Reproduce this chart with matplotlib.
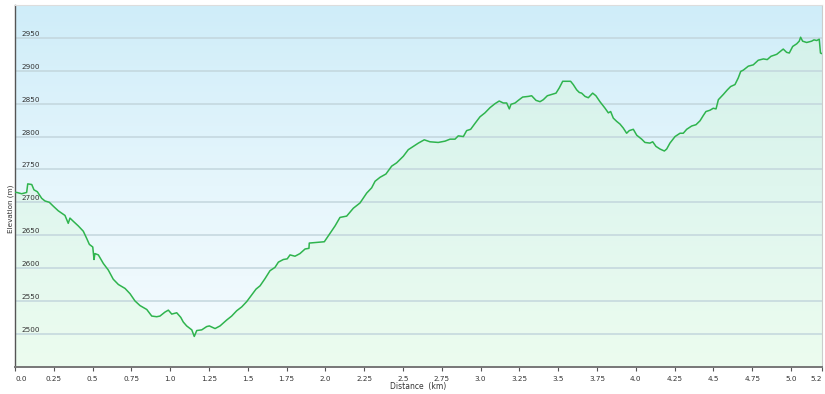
import numpy as np
import matplotlib
matplotlib.use('Agg')
import matplotlib.pyplot as plt
from matplotlib.colors import LinearSegmentedColormap

# profile (distance in km, elevation in m)
distance_km = [0.0, 0.011, 0.043, 0.075, 0.082, 0.108, 0.122, 0.144, 0.172, 0.193, 0.221, 0.247, 0.279,
               0.322, 0.343, 0.354, 0.376, 0.408, 0.440, 0.462, 0.479, 0.501, 0.509, 0.515, 0.537,
               0.569, 0.601, 0.633, 0.666, 0.709, 0.741, 0.773, 0.805, 0.849, 0.881, 0.913, 0.934,
               0.966, 0.988, 1.010, 1.042, 1.068, 1.084, 1.106, 1.139, 1.155, 1.171, 1.203, 1.235,
               1.252, 1.289, 1.321, 1.364, 1.396, 1.428, 1.461, 1.493, 1.525, 1.553, 1.579, 1.611,
               1.643, 1.675, 1.697, 1.729, 1.754, 1.772, 1.804, 1.836, 1.869, 1.894, 1.896, 1.944,
               1.993, 2.030, 2.062, 2.094, 2.137, 2.180, 2.223, 2.266, 2.298, 2.320, 2.352, 2.390,
               2.427, 2.459, 2.502, 2.534, 2.566, 2.599, 2.637, 2.674, 2.727, 2.771, 2.803, 2.835,
               2.856, 2.889, 2.910, 2.936, 2.964, 2.996, 3.028, 3.061, 3.093, 3.120, 3.146, 3.168,
               3.185, 3.196, 3.222, 3.243, 3.271, 3.307, 3.329, 3.357, 3.383, 3.404, 3.430, 3.458,
               3.486, 3.507, 3.529, 3.555, 3.580, 3.597, 3.619, 3.636, 3.651, 3.673, 3.694, 3.722,
               3.743, 3.769, 3.802, 3.823, 3.838, 3.855, 3.877, 3.898, 3.919, 3.941, 3.958, 3.984,
               4.006, 4.038, 4.059, 4.091, 4.109, 4.130, 4.156, 4.184, 4.199, 4.220, 4.253, 4.285,
               4.306, 4.328, 4.360, 4.388, 4.414, 4.435, 4.452, 4.478, 4.499, 4.517, 4.532, 4.564,
               4.590, 4.611, 4.639, 4.660, 4.676, 4.693, 4.725, 4.757, 4.789, 4.822, 4.847, 4.871,
               4.908, 4.934, 4.950, 4.972, 4.989, 5.011, 5.037, 5.053, 5.062, 5.075, 5.101, 5.133,
               5.148, 5.166, 5.182, 5.190, 5.200]
elevation_m = [2715, 2715, 2713, 2715, 2728, 2727, 2719, 2716, 2706, 2702, 2700, 2694, 2687,
               2680, 2668, 2676, 2671, 2664, 2656, 2645, 2636, 2632, 2613, 2622, 2620,
               2607, 2597, 2583, 2575, 2569, 2561, 2550, 2543, 2537, 2527, 2526, 2527,
               2533, 2536, 2530, 2532, 2525, 2518, 2512, 2506, 2496, 2505, 2506, 2511,
               2512, 2508, 2512, 2521, 2527, 2535, 2541, 2549, 2559, 2568, 2573, 2584,
               2596, 2601, 2609, 2613, 2614, 2620, 2618, 2622, 2629, 2630, 2638, 2639,
               2640, 2653, 2664, 2677, 2679, 2691, 2699, 2714, 2722, 2732, 2738, 2743,
               2755, 2760, 2770, 2780, 2785, 2790, 2795, 2792, 2791, 2793, 2796, 2796,
               2801, 2800, 2809, 2811, 2820, 2830, 2836, 2844, 2850, 2854, 2851, 2851,
               2842, 2849, 2851, 2855, 2860, 2861, 2862, 2855, 2853, 2856, 2862, 2864,
               2866, 2874, 2884, 2884, 2884, 2879, 2871, 2867, 2866, 2861, 2859, 2866,
               2862, 2853, 2843, 2836, 2838, 2828, 2823, 2819, 2813, 2805, 2809, 2811,
               2802, 2796, 2791, 2790, 2792, 2785, 2781, 2778, 2781, 2790, 2800, 2805,
               2805, 2811, 2816, 2818, 2824, 2832, 2838, 2840, 2843, 2842, 2856, 2864,
               2871, 2876, 2879, 2889, 2899, 2901, 2907, 2909, 2916, 2918, 2917, 2922,
               2925, 2930, 2933, 2928, 2927, 2937, 2941, 2945, 2951, 2945, 2943, 2945,
               2947, 2946, 2948, 2927, 2926]

x_ticks = [0.0, 0.25, 0.5, 0.75, 1.0, 1.25, 1.5, 1.75, 2.0, 2.25, 2.5, 2.75, 3.0, 3.25, 3.5,
           3.75, 4.0, 4.25, 4.5, 4.75, 5.0, 5.2]
x_tick_labels = ['0.0', '0.25', '0.5', '0.75', '1.0', '1.25', '1.5', '1.75', '2.0', '2.25', '2.5',
                 '2.75', '3.0', '3.25', '3.5', '3.75', '4.0', '4.25', '4.5', '4.75', '5.0', '5.2']
y_ticks = [2500, 2550, 2600, 2650, 2700, 2750, 2800, 2850, 2900, 2950]

x = np.array(distance_km)
y = np.array(elevation_m)
xmin, xmax = 0.0, 5.2
ymin, ymax = 2450, 3000

fig = plt.figure(figsize=(8.25, 3.94), dpi=100)
ax = fig.add_axes([0.0182, 0.0693, 0.9782, 0.918])

# sky background
sky = LinearSegmentedColormap.from_list('sky', ['#cfedf9', '#e6f6fc', '#f6fcfe'])
grad = np.linspace(0, 1, 256).reshape(-1, 1)
ax.imshow(grad, cmap=sky, aspect='auto', extent=[xmin, xmax, ymin, ymax], origin='upper', zorder=0)

# green fill under the profile
fill = ax.fill_between(x, y, ymin, facecolor='none', edgecolor='none', zorder=1)
mint = LinearSegmentedColormap.from_list('mint', ['#d3f1ea', '#dff6ee', '#ecfcef'])
im = ax.imshow(grad, cmap=mint, aspect='auto', extent=[xmin, xmax, ymin, ymax], origin='upper', zorder=1)
im.set_clip_path(fill.get_paths()[0], transform=ax.transData)

for v in y_ticks:
    ax.axhline(v, color='#c3d6dd', lw=1.1, zorder=2)
    ax.text(0.0075, v + 1.5, str(v), transform=ax.get_yaxis_transform(), ha='left', va='bottom',
            fontsize=5.2, color='#333333', zorder=4)

ax.plot(x, y, color='#2fb44e', lw=1.1, zorder=3)

ax.set_xlim(xmin, xmax)
ax.set_ylim(ymin, ymax)
ax.set_yticks([])
ax.set_xticks(x_ticks)
ax.set_xticklabels(x_tick_labels, fontsize=5.2, color='#333333')
labels = ax.get_xticklabels()
labels[0].set_ha('left')
labels[-1].set_ha('right')
ax.tick_params(axis='x', length=3, width=0.8, color='#555555', pad=4)

ax.spines['left'].set_color('#555555')
ax.spines['left'].set_linewidth(1.0)
ax.spines['bottom'].set_color('#777777')
ax.spines['bottom'].set_linewidth(1.4)
ax.spines['top'].set_color('#dddddd')
ax.spines['right'].set_color('#cccccc')

fig.text(0.0125, 0.47, 'Elevation (m)', rotation=90, ha='center', va='center', fontsize=5.2, color='#333333')
fig.text(0.507, 0.018, 'Distance  (km)', ha='center', va='center', fontsize=5.5, color='#333333')

fig.savefig('out.png', dpi=100)
